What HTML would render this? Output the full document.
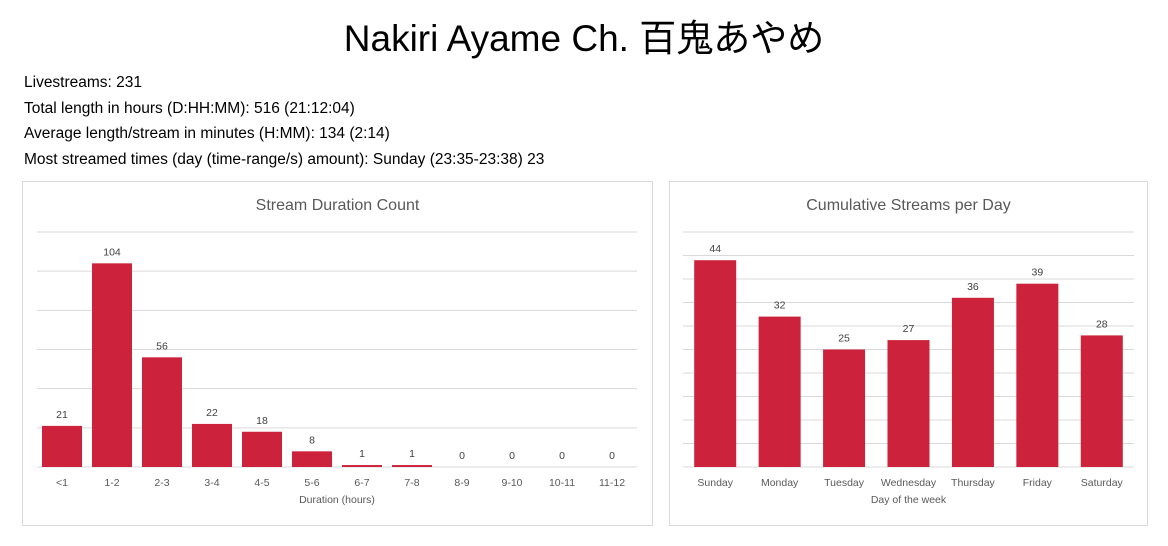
<!DOCTYPE html>
<html><head><meta charset="utf-8"><style>
body{margin:0;width:1168px;height:546px;background:#fff;font-family:"Liberation Sans","Noto Sans CJK JP",sans-serif;overflow:hidden;position:relative}
h1{position:absolute;top:8px;left:0;width:1168px;text-align:center;margin:0;font-weight:normal;font-size:37px;color:#000}
.stats{position:absolute;left:24px;top:70px;font-size:15.5px;line-height:25.5px;color:#000}
.panel{position:absolute;border:1px solid #d9d9d9;background:#fff}
svg text{font-family:"Liberation Sans",sans-serif}
</style></head><body>
<h1>Nakiri Ayame Ch. 百鬼あやめ</h1>
<div class="stats">
<div>Livestreams: 231</div>
<div>Total length in hours (D:HH:MM): 516 (21:12:04)</div>
<div>Average length/stream in minutes (H:MM): 134 (2:14)</div>
<div>Most streamed times (day (time-range/s) amount): Sunday (23:35-23:38) 23</div>
</div>
<div class="panel" style="left:22px;top:181px;width:629px;height:343px">
<svg id="c1" width="629" height="343"></svg></div>
<div class="panel" style="left:669px;top:181px;width:477px;height:343px">
<svg id="c2" width="477" height="343"></svg></div>
<script>
const durCats=["<1","1-2","2-3","3-4","4-5","5-6","6-7","7-8","8-9","9-10","10-11","11-12"];
const durVals=[21,104,56,22,18,8,1,1,0,0,0,0];
const durTicks=[0,20,40,60,80,100,120];
const dayCats=["Sunday","Monday","Tuesday","Wednesday","Thursday","Friday","Saturday"];
const dayVals=[44,32,25,27,36,39,28];
const dayTicks=[0,5,10,15,20,25,30,35,40,45,50];
const NS="http://www.w3.org/2000/svg";
function el(svg,tag,attrs,text){const e=document.createElementNS(NS,tag);for(const k in attrs)e.setAttribute(k,attrs[k]);if(text!==undefined)e.textContent=text;svg.appendChild(e);return e;}
function chart(id,title,xtitle,cats,vals,ticks,x0,x1,bw,prefix){
 const svg=document.getElementById(id);const W=+svg.getAttribute('width');
 const yTop=50,yBot=285,max=ticks[ticks.length-1];
 const y=v=>yBot-(v/max)*(yBot-yTop);
 const band=(x1-x0)/cats.length;const x=i=>x0+band*i+band/2;
 let t=el(svg,'text',{x:W/2,y:28,'text-anchor':'middle','font-size':16,fill:'#595959'},title);
 
 
 ticks.forEach(v=>{const l=el(svg,'line',{x1:x0,x2:x1,y1:y(v),y2:y(v),stroke:'#d9d9d9','stroke-width':1});
  
  });
 cats.forEach((c,i)=>{const v=vals[i];
  const r=el(svg,'rect',{x:x(i)-bw/2,y:y(v),width:bw,height:yBot-y(v),fill:'#cc223b'});
  
  
  const lb=el(svg,'text',{x:x(i),y:y(v)-8,'text-anchor':'middle','font-size':10.5,fill:'#404040'},v);
  
  
  const tl=el(svg,'text',{x:x(i),y:yBot+19,'text-anchor':'middle','font-size':10.5,fill:'#595959'},c);
  
  });
 const xt=el(svg,'text',{x:(x0+x1)/2,y:yBot+36,'text-anchor':'middle','font-size':10.5,fill:'#595959'},xtitle);
 
 
}
chart('c1','Stream Duration Count','Duration (hours)',durCats,durVals,durTicks,14,614,40,'duration');
chart('c2','Cumulative Streams per Day','Day of the week',dayCats,dayVals,dayTicks,13,464,42,'day');
</script>
</body></html>
